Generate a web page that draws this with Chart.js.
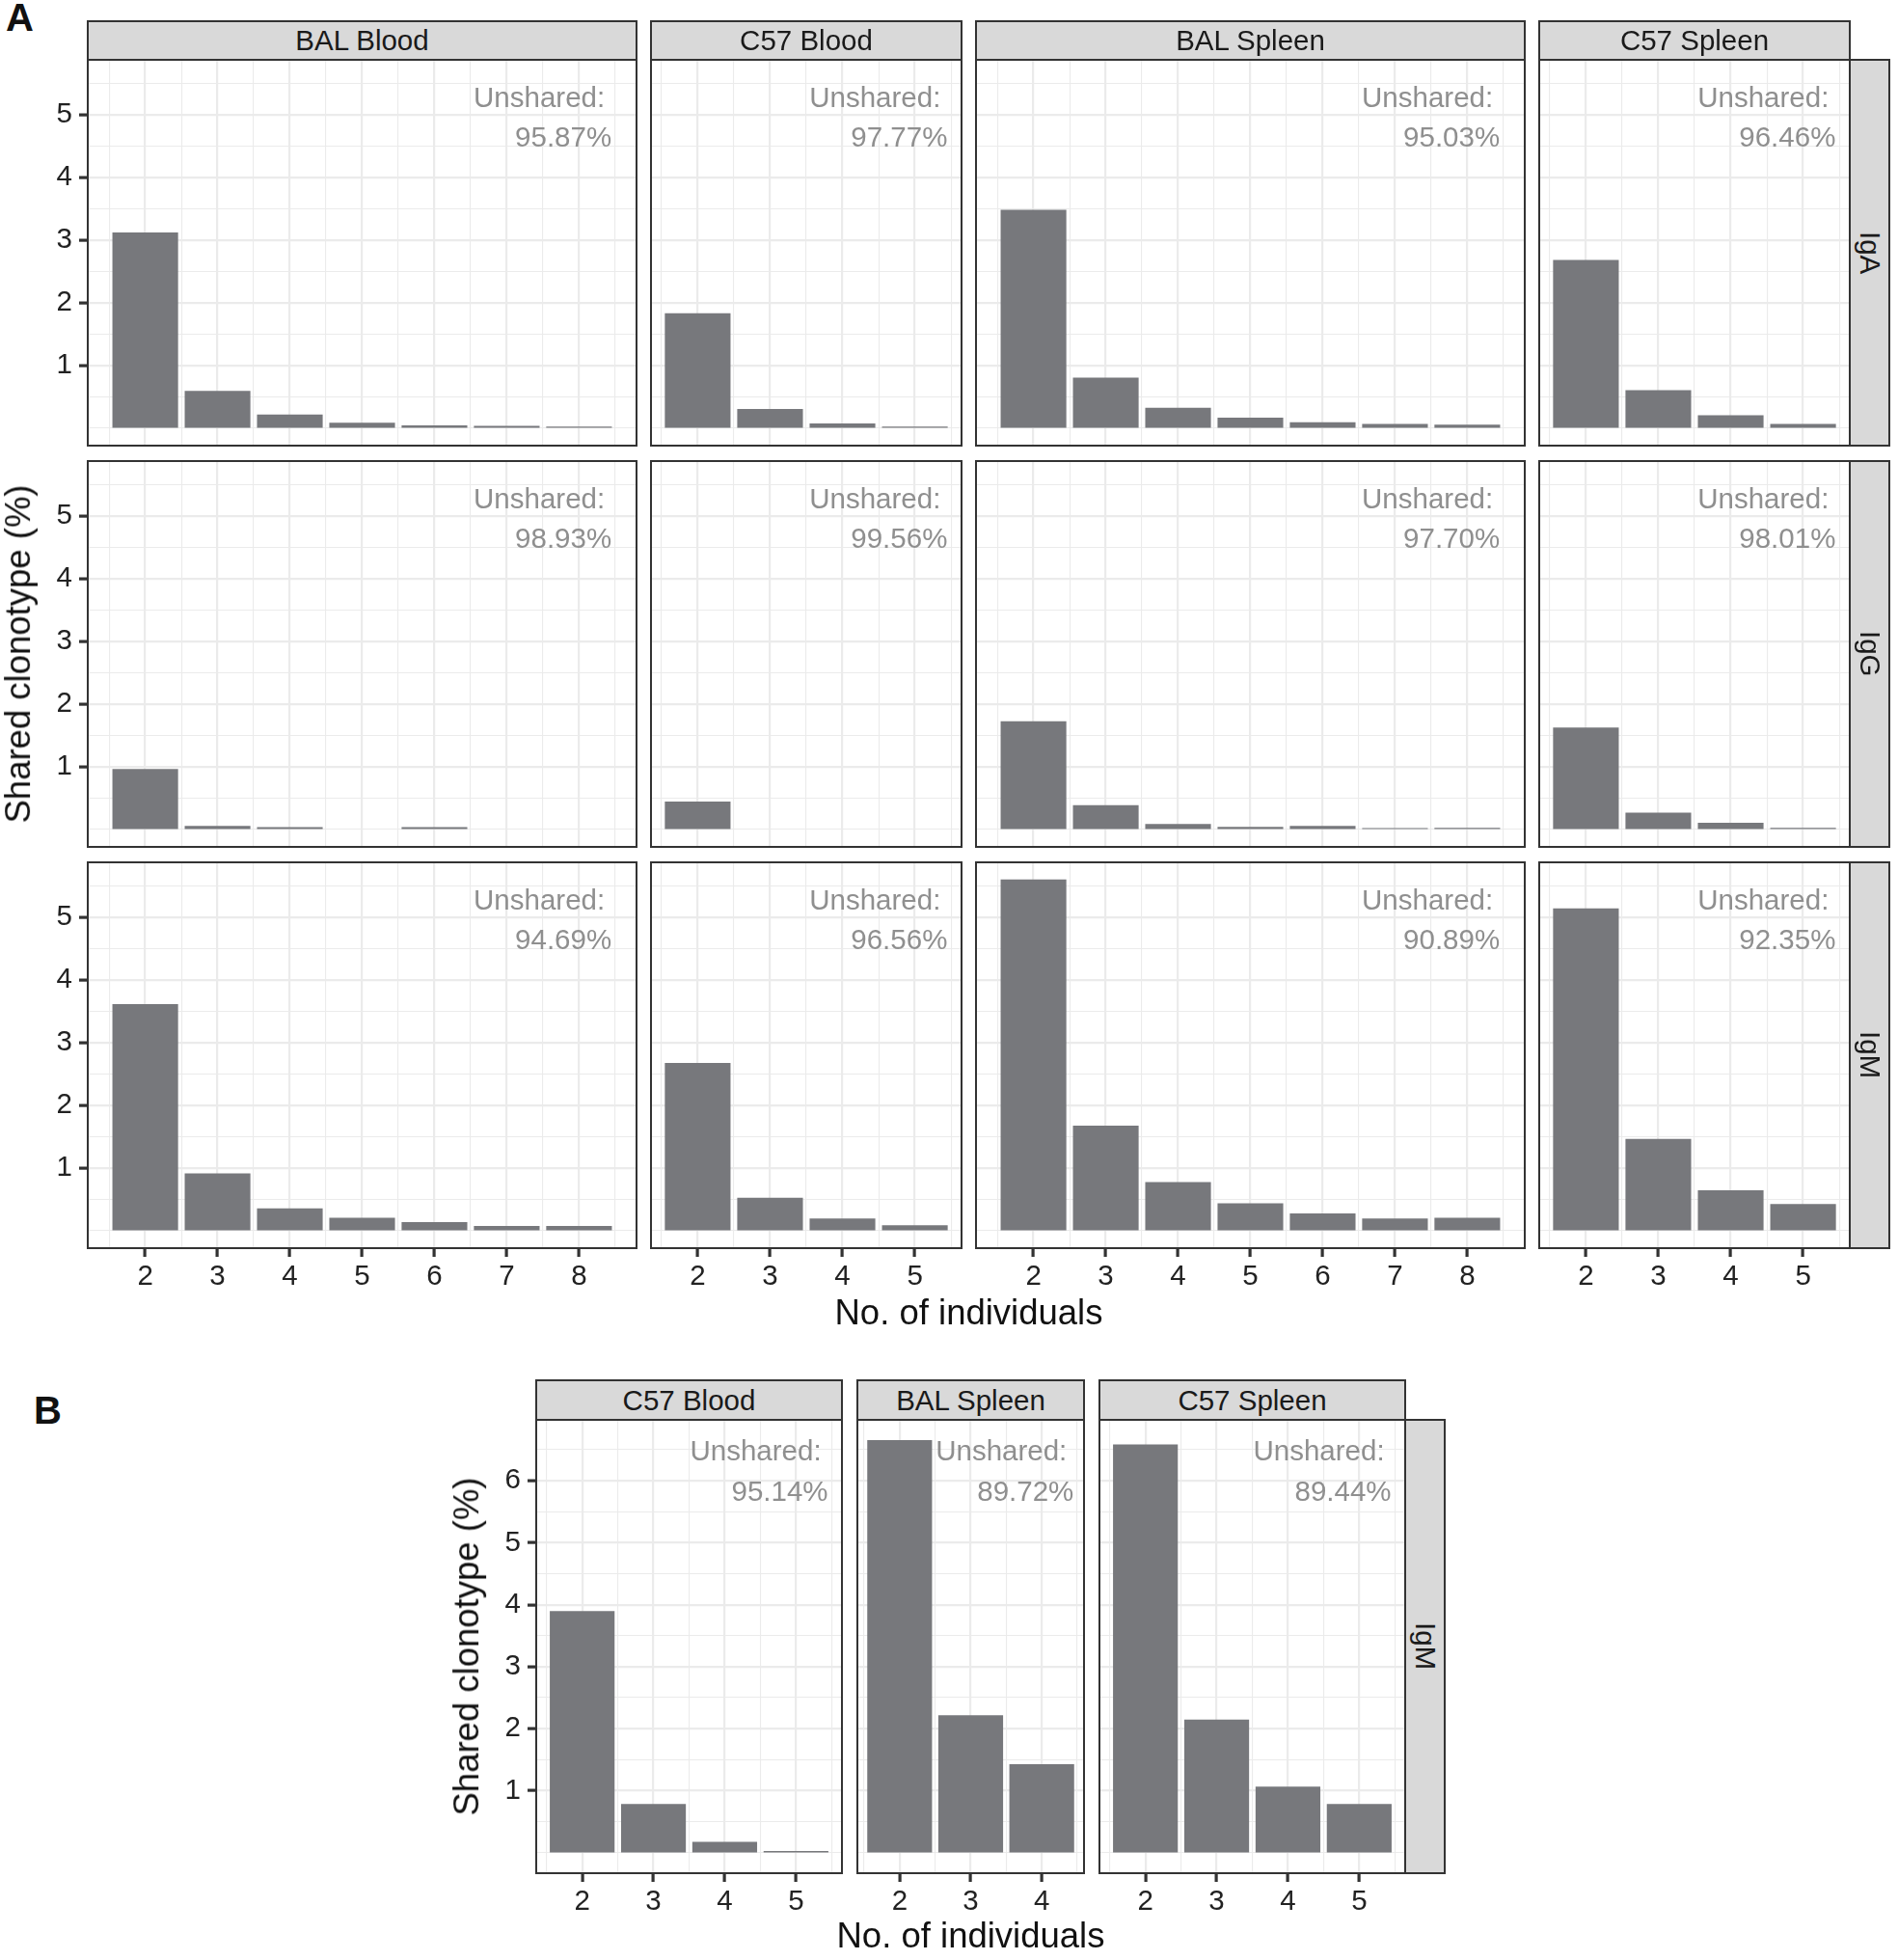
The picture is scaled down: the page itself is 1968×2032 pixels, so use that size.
<!DOCTYPE html>
<html><head><meta charset="utf-8">
<script src="https://cdn.jsdelivr.net/npm/chart.js@4.4.1/dist/chart.umd.min.js"></script>
<style>
html,body{margin:0;padding:0;background:#fff;}
#root{position:relative;width:1968px;height:2032px;overflow:hidden;font-family:'Liberation Sans',Arial,Helvetica,sans-serif;}
canvas{position:absolute;}
.strip{position:absolute;box-sizing:border-box;border:2px solid #333;background:#d9d9d9;color:#1a1a1a;font-size:29.5px;display:flex;align-items:center;justify-content:center;white-space:nowrap;}
.strip.v{writing-mode:vertical-rl;}
.lbl{position:absolute;white-space:nowrap;line-height:1;color:#111;}
</style></head><body><div id="root"></div>
<script>
// ---------------- DATA ----------------
const xBAL = [2, 3, 4, 5, 6, 7, 8];
const xC57 = [2, 3, 4, 5];
const xBALSpleenB = [2, 3, 4];

const columnsA = ["BAL Blood", "C57 Blood", "BAL Spleen", "C57 Spleen"];
const rowsA = ["IgA", "IgG", "IgM"];

const IgA_BAL_Blood  = [3.12, 0.59, 0.21, 0.08, 0.04, 0.03, 0.02];
const IgA_C57_Blood  = [1.83, 0.30, 0.07, 0.02];
const IgA_BAL_Spleen = [3.48, 0.80, 0.32, 0.16, 0.09, 0.06, 0.05];
const IgA_C57_Spleen = [2.68, 0.60, 0.20, 0.06];

const IgG_BAL_Blood  = [0.96, 0.05, 0.03, null, 0.03, null, null];
const IgG_C57_Blood  = [0.44, null, null, null];
const IgG_BAL_Spleen = [1.72, 0.38, 0.08, 0.035, 0.05, 0.015, 0.02];
const IgG_C57_Spleen = [1.62, 0.26, 0.10, 0.02];

const IgM_BAL_Blood  = [3.61, 0.91, 0.35, 0.20, 0.13, 0.07, 0.07];
const IgM_C57_Blood  = [2.67, 0.52, 0.19, 0.08];
const IgM_BAL_Spleen = [5.60, 1.67, 0.77, 0.43, 0.27, 0.19, 0.20];
const IgM_C57_Spleen = [5.14, 1.46, 0.64, 0.42];

const unsharedIgA = ["95.87", "97.77", "95.03", "96.46"];
const unsharedIgG = ["98.93", "99.56", "97.70", "98.01"];
const unsharedIgM = ["94.69", "96.56", "90.89", "92.35"];

const columnsB = ["C57 Blood", "BAL Spleen", "C57 Spleen"];
const rowB = "IgM";
const B_C57_Blood  = [3.89, 0.78, 0.17, 0.02];
const B_BAL_Spleen = [6.65, 2.21, 1.42];
const B_C57_Spleen = [6.58, 2.14, 1.06, 0.78];
const unsharedB = ["95.14", "89.72", "89.44"];

const yTitle = "Shared clonotype (%)";
const xTitle = "No. of individuals";

// ---------------- STYLE ----------------
const FONT = "'Liberation Sans', Arial, Helvetica, sans-serif";
const BAR = '#77787c';
const GRID = '#ebebeb';
const AXIS = '#333333';
const TICKTXT = '#222222';
const ANN = '#8f8f8f';
Chart.defaults.font.family = FONT;

const root = document.getElementById('root');

function xRange(xs) {
  const lo = xs[0] - 0.45, hi = xs[xs.length - 1] + 0.45, pad = 0.05 * (hi - lo);
  return [lo - pad, hi + pad];
}
function xTickList(xs) {
  const out = [];
  for (let v = xs[0] - 0.5; v <= xs[xs.length - 1] + 0.5 + 1e-9; v += 0.5) out.push(Math.round(v * 2) / 2);
  return out;
}
function yRange(all) {
  const m = Math.max(...all.filter(v => v != null));
  return [-0.05 * m, 1.05 * m];
}
function yTickList(lim) {
  const out = [];
  for (let v = 0; v <= lim[1] + 1e-9; v += 0.5) out.push(Math.round(v * 2) / 2);
  return out;
}

const facetPlugin = {
  id: 'facetDeco',
  afterDatasetsDraw(chart, args, o) {
    const { ctx, chartArea: a, scales } = chart;
    ctx.save();
    ctx.font = '29.5px ' + FONT;
    ctx.fillStyle = ANN;
    ctx.textAlign = 'right';
    ctx.textBaseline = 'alphabetic';
    const xr = scales.x.getPixelForValue(o.xRight);
    ctx.fillText('Unshared:', xr - 7, a.top + o.off1);
    ctx.fillText(o.pct + '%', xr, a.top + o.off2);
    ctx.restore();
  },
  afterDraw(chart) {
    const { ctx, chartArea: a } = chart;
    ctx.save();
    ctx.strokeStyle = AXIS;
    ctx.lineWidth = 2;
    ctx.strokeRect(a.left, a.top, a.right - a.left, a.bottom - a.top);
    ctx.restore();
  }
};

function zeroPad(s) { s.paddingTop = 0; s.paddingBottom = 0; s.paddingLeft = 0; s.paddingRight = 0; }

function facet(f) {
  const ml = f.showY ? 80 : 4, mb = f.showX ? 60 : 4, mt = 4, mr = 4;
  const W = f.w + ml + mr, H = f.h + mt + mb;
  const cv = document.createElement('canvas');
  cv.width = W; cv.height = H;
  cv.style.left = (f.x - ml) + 'px';
  cv.style.top = (f.y - mt) + 'px';
  cv.style.width = W + 'px';
  cv.style.height = H + 'px';
  root.appendChild(cv);
  const majX = v => Number.isInteger(v);
  const majY = v => Number.isInteger(v) && v >= 1;
  const xl = xRange(f.xs);
  new Chart(cv, {
    type: 'bar',
    data: { datasets: [{ data: f.xs.map((x, i) => ({ x: x, y: f.ys[i] })), backgroundColor: BAR, borderWidth: 0, barThickness: 0.9 * f.ppu }] },
    options: {
      responsive: false, animation: false, devicePixelRatio: 1,
      layout: { padding: { top: mt, right: mr, left: 0, bottom: 0 } },
      plugins: {
        legend: { display: false }, tooltip: { enabled: false },
        facetDeco: { xRight: f.xs[f.xs.length - 1] + 0.45, pct: f.pct, off1: f.off1, off2: f.off2 }
      },
      scales: {
        x: {
          type: 'linear', min: xl[0], max: xl[1], offset: false,
          afterBuildTicks: s => { s.ticks = xTickList(f.xs).map(v => ({ value: v })); },
          afterFit: s => { s.height = mb; zeroPad(s); },
          grid: { offset: false, color: GRID, lineWidth: c => majX(c.tick.value) ? 2.2 : 1.1,
                  drawTicks: f.showX, tickLength: 9, tickWidth: 3.2,
                  tickColor: c => majX(c.tick.value) ? AXIS : 'rgba(0,0,0,0)' },
          border: { display: false },
          ticks: { display: f.showX, autoSkip: false, maxRotation: 0, minRotation: 0, padding: 3, color: TICKTXT,
                   font: { family: FONT, size: 29.5 }, callback: v => Number.isInteger(v) ? String(v) : '' }
        },
        y: {
          type: 'linear', min: f.ylim[0], max: f.ylim[1],
          afterBuildTicks: s => { s.ticks = yTickList(f.ylim).map(v => ({ value: v })); },
          afterFit: s => { s.width = ml; zeroPad(s); },
          grid: { color: GRID, lineWidth: c => majY(c.tick.value) ? 2.2 : 1.1,
                  drawTicks: f.showY, tickLength: 9, tickWidth: 3.2,
                  tickColor: c => majY(c.tick.value) ? AXIS : 'rgba(0,0,0,0)' },
          border: { display: false },
          ticks: { display: f.showY, autoSkip: false, padding: 7, color: TICKTXT,
                   font: { family: FONT, size: 29.5 }, callback: v => (Number.isInteger(v) && v >= 1) ? String(v) : '' }
        }
      }
    },
    plugins: [facetPlugin]
  });
}

function strip(txt, x, y, w, h, vertical) {
  const d = document.createElement('div');
  d.className = 'strip' + (vertical ? ' v' : '');
  d.textContent = txt;
  d.style.left = x + 'px'; d.style.top = y + 'px';
  d.style.width = w + 'px'; d.style.height = h + 'px';
  root.appendChild(d);
}
function hText(txt, cx, baseline, size, weight, align) {
  const d = document.createElement('div');
  d.className = 'lbl';
  d.textContent = txt;
  d.style.fontSize = size + 'px';
  d.style.fontWeight = weight || 'normal';
  d.style.left = cx + 'px';
  d.style.top = (baseline - 0.8465 * size) + 'px';
  if (align !== 'left') d.style.transform = 'translateX(-50%)';
  root.appendChild(d);
}
function vText(txt, baseX, cy, size) {
  const d = document.createElement('div');
  d.className = 'lbl';
  d.textContent = txt;
  d.style.fontSize = size + 'px';
  d.style.left = baseX + 'px';
  d.style.top = cy + 'px';
  d.style.transformOrigin = '0 0';
  d.style.transform = 'rotate(-90deg) translate(-50%, ' + (-0.8465 * size) + 'px)';
  root.appendChild(d);
}

// ---------------- PANEL A ----------------
const xsA = [xBAL, xC57, xBAL, xC57];
const valsA = [
  [IgA_BAL_Blood, IgA_C57_Blood, IgA_BAL_Spleen, IgA_C57_Spleen],
  [IgG_BAL_Blood, IgG_C57_Blood, IgG_BAL_Spleen, IgG_C57_Spleen],
  [IgM_BAL_Blood, IgM_C57_Blood, IgM_BAL_Spleen, IgM_C57_Spleen]
];
const unsharedA = [unsharedIgA, unsharedIgG, unsharedIgM];
const ylimA = yRange(valsA.flat(2));

const A_left = 91, A_right = 1918, A_gap = 15.4;
const unitsA = xsA.map(xs => { const r = xRange(xs); return r[1] - r[0]; });
const ppuA = (A_right - A_left - 3 * A_gap) / unitsA.reduce((a, b) => a + b, 0);
const colA = [];
{ let cur = A_left; unitsA.forEach(u => { const l = Math.round(cur), r = Math.round(cur + u * ppuA); colA.push([l, r - l]); cur += u * ppuA + A_gap; }); }
const rowTopA = [62, 478, 894], rowHA = 400;

rowsA.forEach((rn, ri) => {
  columnsA.forEach((cn, ci) => {
    facet({ x: colA[ci][0], y: rowTopA[ri], w: colA[ci][1], h: rowHA, xs: xsA[ci], ys: valsA[ri][ci],
            ylim: ylimA, ppu: ppuA, showY: ci === 0, showX: ri === 2, pct: unsharedA[ri][ci], off1: 48.7, off2: 89.5 });
  });
});
columnsA.forEach((cn, ci) => strip(cn, colA[ci][0] - 1, 21, colA[ci][1] + 2, rowTopA[0] - 21 + 1, false));
rowsA.forEach((rn, ri) => strip(rn, A_right - 1, rowTopA[ri] - 1, 43, rowHA + 2, true));
vText(yTitle, 31.5, (rowTopA[0] + rowTopA[2] + rowHA) / 2, 36.5);
hText(xTitle, (A_left + A_right) / 2, 1374, 36.5);
hText('A', 6, 32, 40, 'bold', 'left');

// ---------------- PANEL B ----------------
const xsB = [xC57, xBALSpleenB, xC57];
const valsB = [B_C57_Blood, B_BAL_Spleen, B_C57_Spleen];
const ylimB = yRange(valsB.flat());
const B_left = 556, B_right = 1457, B_gap = 15.5;
const unitsB = xsB.map(xs => { const r = xRange(xs); return r[1] - r[0]; });
const ppuB = (B_right - B_left - 2 * B_gap) / unitsB.reduce((a, b) => a + b, 0);
const colB = [];
{ let cur = B_left; unitsB.forEach(u => { const l = Math.round(cur), r = Math.round(cur + u * ppuB); colB.push([l, r - l]); cur += u * ppuB + B_gap; }); }
const topB = 1472, hB = 470;
columnsB.forEach((cn, ci) => {
  facet({ x: colB[ci][0], y: topB, w: colB[ci][1], h: hB, xs: xsB[ci], ys: valsB[ci],
          ylim: ylimB, ppu: ppuB, showY: ci === 0, showX: true, pct: unsharedB[ci], off1: 41.6, off2: 84.2 });
  strip(cn, colB[ci][0] - 1, 1430, colB[ci][1] + 2, topB - 1430 + 1, false);
});
strip(rowB, B_right - 1, topB - 1, 43, hB + 2, true);
vText(yTitle, 496.5, topB + hB / 2, 36.5);
hText(xTitle, (B_left + B_right) / 2, 2020, 36.5);
hText('B', 35, 1476, 40, 'bold', 'left');
</script></body></html>
